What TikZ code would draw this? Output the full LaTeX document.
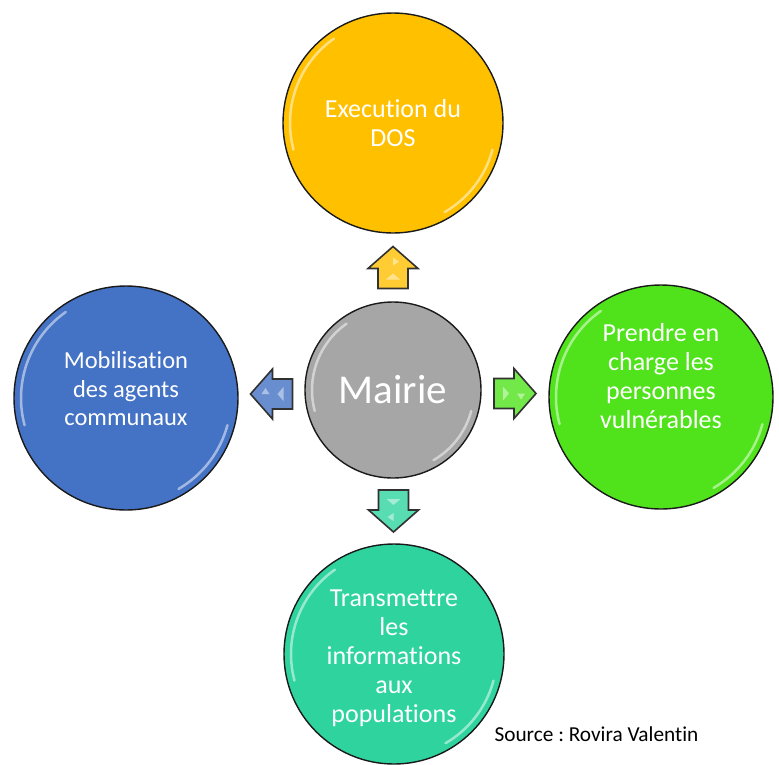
\documentclass[tikz,border=0pt]{standalone}
\usepackage{fontspec}
\setmainfont{Carlito}[Ligatures={NoCommon}]
\usetikzlibrary{calc}
\definecolor{cyel}{HTML}{FFC000}
\definecolor{cblue}{HTML}{4472C4}
\definecolor{cgreen}{HTML}{50E31C}
\definecolor{cteal}{HTML}{2ED39E}
\definecolor{cgrey}{HTML}{A6A6A6}
\definecolor{cedge}{HTML}{1A1A1A}
\tikzset{
  bubble/.style={circle, draw=cedge, line width=1.4pt, inner sep=0pt},
  lbl/.style={text=white, align=center, font=\fontsize{26}{29}\selectfont},
  gloss/.style={white, line width=2.5pt, opacity=0.5, line cap=round},
  blockarrow/.style={draw=cedge!90, line width=1.6pt, line join=miter},
  shine/.style={fill=white, opacity=0.45, draw=none},
}
\frenchspacing
\begin{document}
\begin{tikzpicture}[x=1pt,y=-1pt]
\useasboundingbox (0,0) rectangle (779,764);
% circles
\node[bubble, fill=cyel, minimum size=220pt] (top) at (393,123) {};
\node[bubble, fill=cblue, minimum size=224pt] (left) at (126,398) {};
\node[bubble, fill=cgreen, minimum size=224pt] (right) at (661,397) {};
\node[bubble, fill=cteal, minimum size=220pt] (bottom) at (394,654) {};
\node[bubble, fill=cgrey, minimum size=176pt] (mairie) at (393,390) {};
% gloss highlights
\foreach \c/\r in {top/103, left/105, right/105, bottom/103, mairie/81}{
  \draw[gloss] ([shift={(165:\r)}]\c.center) arc[start angle=165, end angle=235, radius=\r];
  \draw[gloss] ([shift={(15:\r)}]\c.center) arc[start angle=15, end angle=60, radius=\r];
}
% texts
\node[lbl] (ttop) at (393,123) {Execution du\\DOS};
\node[lbl, font=\fontsize{24.5}{28.5}\selectfont] (tleft) at (126,389) {Mobilisation\\des agents\\communaux};
\node[lbl] (tright) at (661,376) {Prendre en\\charge les\\personnes\\vulnérables};
\node[lbl] (tbottom) at (394,658) {Transmettre\\les\\informations\\aux\\populations};
\node[text=white, font=\fontsize{41}{45}\selectfont] (tmairie) at (393,390) {Mairie};
% block arrow anchors
\coordinate (cU) at ($(mairie.north)!0.5!(top.south)$);
\coordinate (cL) at ($(mairie.west)!0.5!(left.east)$);
\coordinate (cR) at ($(mairie.east)!0.5!(right.west)$);
\coordinate (cD) at ($(mairie.south)!0.5!(bottom.north)$);
% up arrow
\begin{scope}[shift={(cU)}]
\draw[blockarrow, fill=cyel!80!white] (0,-21) -- (25,1) -- (15,1) -- (15,21) -- (-15,21) -- (-15,1) -- (-25,1) -- cycle;
\fill[shine] (0,-10) -- (6,-6) -- (0,-2) -- cycle;
\fill[shine] (-7,12) -- (7,12) -- (0,6) -- cycle;
\end{scope}
% left arrow
\begin{scope}[shift={(cL)}]
\draw[blockarrow, fill=cblue!80!white] (-21,0) -- (1,-25) -- (1,-15) -- (21,-15) -- (21,15) -- (1,15) -- (1,25) -- cycle;
\fill[shine] (-10,0) -- (-6,-6) -- (-2,0) -- cycle;
\fill[shine] (12,-7) -- (12,7) -- (6,0) -- cycle;
\end{scope}
% right arrow
\begin{scope}[shift={(cR)}]
\draw[blockarrow, fill=cgreen!80!white] (21,0) -- (-1,-25) -- (-1,-15) -- (-21,-15) -- (-21,15) -- (-1,15) -- (-1,25) -- cycle;
\fill[shine] (10,0) -- (6,6) -- (2,0) -- cycle;
\fill[shine] (-12,-7) -- (-12,7) -- (-6,0) -- cycle;
\end{scope}
% down arrow
\begin{scope}[shift={(cD)}]
\draw[blockarrow, fill=cteal!80!white] (0,21) -- (25,-1) -- (15,-1) -- (15,-21) -- (-15,-21) -- (-15,-1) -- (-25,-1) -- cycle;
\fill[shine] (0,10) -- (-6,6) -- (0,2) -- cycle;
\fill[shine] (-7,-12) -- (7,-12) -- (0,-6) -- cycle;
\end{scope}
% source
\node[anchor=west, text=black, font=\fontsize{21.3}{25}\selectfont] (src) at (491,734) {Source : Rovira Valentin};
\end{tikzpicture}
\end{document}
